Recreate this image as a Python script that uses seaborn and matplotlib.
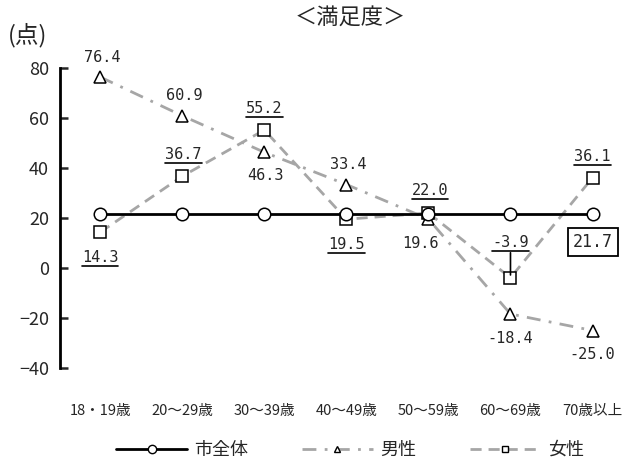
import matplotlib
matplotlib.use("Agg")
import matplotlib.pyplot as plt
from matplotlib.lines import Line2D
import seaborn as sns
import numpy as np

categories = ["18・19歳", "20～29歳", "30～39歳", "40～49歳", "50～59歳", "60～69歳", "70歳以上"]
city_all = [21.7, 21.7, 21.7, 21.7, 21.7, 21.7, 21.7]
male = [76.4, 60.9, 46.3, 33.4, 19.6, -18.4, -25.0]
female = [14.3, 36.7, 55.2, 19.5, 22.0, -3.9, 36.1]
series_names = ["市全体", "男性", "女性"]
yticks = [-40, -20, 0, 20, 40, 60, 80]

sns.set_style("white")
JP = ["Noto Sans CJK JP", "DejaVu Sans"]
plt.rcParams["font.family"] = JP

W, H = 627, 463
fig = plt.figure(figsize=(W / 100, H / 100), dpi=100)
ax = fig.add_axes([60 / W, (H - 368) / H, (W - 60) / W, 300 / H])

x = np.arange(len(categories))
gray = "#a6a6a6"
male_ls = (0, (5, 3, 1, 3))
female_ls = (0, (4, 2.5))

sns.lineplot(x=x, y=female, ax=ax, color=gray, linewidth=2.0, linestyle=female_ls,
             marker="s", markersize=8, markerfacecolor="white", markeredgecolor="black",
             markeredgewidth=1.1, zorder=4, label=series_names[2], legend=False)
sns.lineplot(x=x, y=male, ax=ax, color=gray, linewidth=2.0, linestyle=male_ls,
             marker="^", markersize=8, markerfacecolor="white", markeredgecolor="black",
             markeredgewidth=1.1, zorder=3, label=series_names[1], legend=False)
sns.lineplot(x=x, y=city_all, ax=ax, color="black", linewidth=2.0, linestyle="-",
             marker="o", markersize=9, markerfacecolor="white", markeredgecolor="black",
             markeredgewidth=1.1, zorder=5, label=series_names[0], legend=False)

ax.set_xlim(-0.49, 6.42)
ax.set_ylim(-40, 80)
ax.set_yticks(yticks)
ax.set_yticklabels([str(v).replace("-", "\u2212") for v in yticks], fontsize=13)
ax.tick_params(axis="y", direction="in", length=6, width=1.8, pad=8, left=True)
ax.set_xticks(x)
ax.set_xticklabels(categories, fontsize=10.5)
ax.tick_params(axis="x", length=0, pad=26)
for s in ["top", "right", "bottom"]:
    ax.spines[s].set_visible(False)
ax.spines["left"].set_linewidth(2.0)
ax.spines["left"].set_color("black")
ax.set_xlabel("")
ax.set_ylabel("")

mono = ["DejaVu Sans Mono"]
LFS = 11

male_pos = [(1.5, 9, "bottom"), (1.5, 9, "bottom"), (1, -11, "top"), (1, 9, "bottom"),
            (-6, -12, "top"), (0, -12, "top"), (0, -12, "top")]
for i, v in enumerate(male):
    dx, dy, va = male_pos[i]
    ax.annotate(f"{v:.1f}", (x[i], v), xytext=(dx, dy), textcoords="offset points",
                ha="center", va=va, fontsize=LFS, family=mono, zorder=6)

female_pos = [(0, -13, "top"), (1, 10, "bottom"), (0, 10, "bottom"), (0, -13, "top"),
              (1, 11, "bottom"), (0, 20, "bottom"), (0, 10, "bottom")]
under = []
for i, v in enumerate(female):
    dx, dy, va = female_pos[i]
    t = ax.annotate(f"{v:.1f}", (x[i], v), xytext=(dx, dy), textcoords="offset points",
                    ha="center", va=va, fontsize=LFS, family=mono, zorder=6)
    under.append(t)

# leader line for the -3.9 label
ax.annotate("", xy=(x[5], female[5]), xytext=(0, 18), textcoords="offset points",
            arrowprops=dict(arrowstyle="-", color="black", lw=1.2, shrinkA=0, shrinkB=2), zorder=6)

ax.annotate(f"{city_all[-1]:.1f}", (x[-1], city_all[-1]), xytext=(0, -14), textcoords="offset points",
            ha="center", va="top", fontsize=LFS + 1, family=mono, zorder=6,
            bbox=dict(boxstyle="square,pad=0.3", facecolor="white", edgecolor="black", lw=1.3))

fig.text(8 / W, 1 - 35 / H, "(点)", fontsize=17, ha="left", va="center")
fig.text(350 / W, 1 - 18 / H, "＜満足度＞", fontsize=16, ha="center", va="center")

handles = [
    Line2D([], [], color="black", lw=2.0, marker="o", markersize=6, markerfacecolor="white", markeredgecolor="black"),
    Line2D([], [], color=gray, lw=2.0, linestyle=male_ls, marker="^", markersize=5, markerfacecolor="white", markeredgecolor="black"),
    Line2D([], [], color=gray, lw=2.0, linestyle=female_ls, marker="s", markersize=5, markerfacecolor="white", markeredgecolor="black"),
]
fig.legend(handles, series_names, loc="center", bbox_to_anchor=(350 / W, 1 - 450 / H), ncol=3,
           frameon=False, fontsize=13, handlelength=3.9, columnspacing=3.0, handletextpad=0.4,
           numpoints=1, borderpad=0.1)

fig.canvas.draw()
r = fig.canvas.get_renderer()
for t in under:
    bb = t.get_window_extent(renderer=r)
    y0 = bb.y0 - 1
    fig.add_artist(Line2D([bb.x0 / W, bb.x1 / W], [y0 / H, y0 / H], transform=fig.transFigure,
                          color="black", lw=1.2))

fig.savefig("out.png", dpi=100)
